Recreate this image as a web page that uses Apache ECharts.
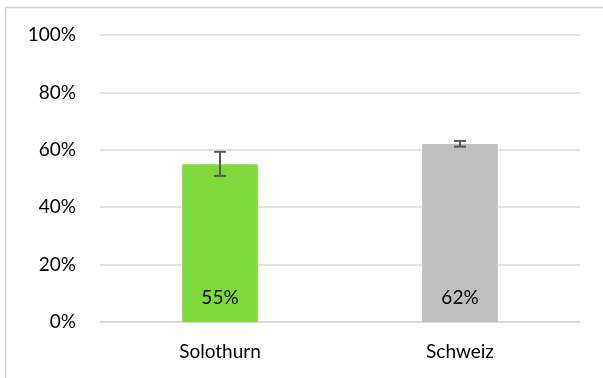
<!DOCTYPE html>
<html><head><meta charset="utf-8">
<script src="https://cdn.jsdelivr.net/npm/echarts@6/dist/echarts.min.js"></script>
<style>html,body{margin:0;padding:0;background:#fff}#c{width:603px;height:378px}</style>
</head><body><div id="c"></div>
<script>
const categories = ['Solothurn', 'Schweiz'];
const values = [55, 62];
const errLow = [50.9, 61.1];
const errHigh = [59.3, 63.1];
const barColors = ['#80d93a', '#bfbfbf'];
const yTicks = [0, 20, 40, 60, 80, 100];

const chart = echarts.init(document.getElementById('c'));
const font = 'Lato, "Open Sans", sans-serif';
const fs = 19;
chart.setOption({
  animation: false,
  graphic: [{type:'rect', shape:{x:5.5,y:7.5,width:700,height:500}, style:{fill:'none', stroke:'#d0d0d0', lineWidth:1.5}}],
  grid: {left: 100, right: 23, top: 35, bottom: 56},
  xAxis: {type:'category', data: categories,
    axisLine:{lineStyle:{color:'#d9d9d9', width:1.5}}, axisTick:{show:false},
    axisLabel:{color:'#000', fontSize:fs, fontFamily:font, margin:20}},
  yAxis: {type:'value', min:0, max:100, interval:20,
    axisLine:{show:false}, axisTick:{show:false},
    splitLine:{lineStyle:{color:'#d9d9d9', width:1.5}},
    axisLabel:{color:'#000', fontSize:fs, fontFamily:font, margin:24, formatter: v => yTicks.includes(v) ? v + '%' : ''}},
  series: [{
    type:'bar', barWidth:'31.5%',
    data: values.map((v,i)=>({value:v, itemStyle:{color:barColors[i]}})),
    label:{show:true, position:'insideBottom', distance:15, color:'#000', fontSize:fs, fontFamily:font, formatter: p => p.value + '%'}
  },{
    type:'custom',
    data: categories.map((c,i)=>[i, errLow[i], errHigh[i]]),
    renderItem: function(params, api){
      const lo = api.coord([api.value(0), api.value(1)]);
      const hi = api.coord([api.value(0), api.value(2)]);
      const w = 6;
      const st = {stroke:'#595959', lineWidth:2};
      return {type:'group', children:[
        {type:'line', shape:{x1:hi[0], y1:hi[1], x2:lo[0], y2:lo[1]}, style:st},
        {type:'line', shape:{x1:hi[0]-w, y1:hi[1], x2:hi[0]+w, y2:hi[1]}, style:st},
        {type:'line', shape:{x1:lo[0]-w, y1:lo[1], x2:lo[0]+w, y2:lo[1]}, style:st}
      ]};
    },
    z: 10
  }]
});
</script></body></html>
